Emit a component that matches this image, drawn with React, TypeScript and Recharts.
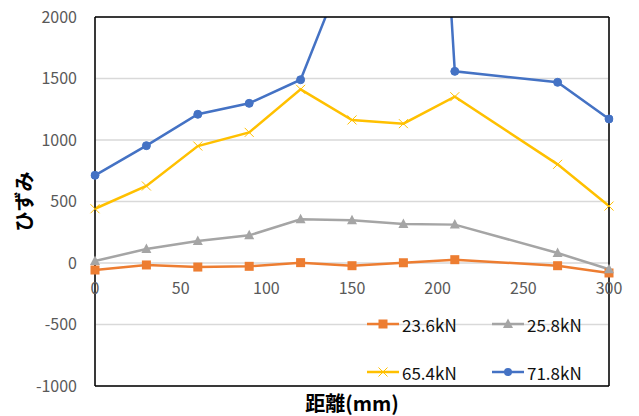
import {
  CartesianGrid,
  Legend,
  Line,
  LineChart,
  ReferenceDot,
  XAxis,
  YAxis,
} from "recharts";

const distance = [0, 30, 60, 90, 120, 150, 180, 210, 270, 300];
const strain236 = [-57, -16, -33, -27, 3, -22, 2, 27, -22, -81];
const strain258 = [16, 114, 179, 225, 355, 347, 317, 312, 81, -51];
const strain654 = [441, 626, 951, 1062, 1412, 1163, 1133, 1352, 802, 463];
const strain718 = [713, 954, 1209, 1298, 1490, 2540, 8400, 1558, 1469, 1171];

const xTicks = [0, 50, 100, 150, 200, 250, 300];
const yTicks = [-1000, -500, 0, 500, 1000, 1500, 2000];

const FONT = '"Noto Sans CJK JP", "Noto Sans", sans-serif';
const frame = { stroke: "#000", strokeWidth: 1.5 };

type Shape = "square" | "triangle" | "cross" | "circle";

const series: { key: string; name: string; color: string; shape: Shape }[] = [
  { key: "s236", name: "23.6kN", color: "#ED7D31", shape: "square" },
  { key: "s258", name: "25.8kN", color: "#A5A5A5", shape: "triangle" },
  { key: "s654", name: "65.4kN", color: "#FFC000", shape: "cross" },
  { key: "s718", name: "71.8kN", color: "#4472C4", shape: "circle" },
];

const rows = distance.map((d, i) => ({
  d,
  s236: strain236[i],
  s258: strain258[i],
  s654: strain654[i],
  s718: strain718[i],
}));

function marker(shape: Shape, cx: number, cy: number, color: string, key?: any) {
  if (cx == null || cy == null) return <g key={key} />;
  switch (shape) {
    case "square":
      return <rect key={key} x={cx - 4.5} y={cy - 4.5} width={9} height={9} fill={color} />;
    case "triangle":
      return (
        <polygon
          key={key}
          points={`${cx},${cy - 5.5} ${cx - 5},${cy + 4} ${cx + 5},${cy + 4}`}
          fill={color}
        />
      );
    case "cross":
      return (
        <g key={key} stroke={color} strokeWidth={1}>
          <line x1={cx - 4.5} y1={cy - 4.5} x2={cx + 4.5} y2={cy + 4.5} />
          <line x1={cx - 4.5} y1={cy + 4.5} x2={cx + 4.5} y2={cy - 4.5} />
        </g>
      );
    default:
      return <circle key={key} cx={cx} cy={cy} r={4} fill={color} />;
  }
}

function LegendGrid({ payload }: any) {
  return (
    <div
      style={{
        display: "grid",
        gridTemplateColumns: "125px 125px",
        gridAutoRows: "48px",
        fontFamily: FONT,
        fontSize: 17,
        color: "#111",
      }}
    >
      {(payload || []).map((entry: any) => {
        const s = series.find((x) => x.key === entry.dataKey)!;
        return (
          <div key={s.key} style={{ display: "flex", alignItems: "center" }}>
            <svg width={33} height={16} style={{ marginRight: 2 }}>
              <line x1={0} y1={8} x2={32} y2={8} stroke={s.color} strokeWidth={2.5} />
              {marker(s.shape, 16, 8, s.color)}
            </svg>
            <span>{s.name}</span>
          </div>
        );
      })}
    </div>
  );
}

export default function App() {
  return (
    <div style={{ position: "absolute", left: 0, top: 0 }}>
      <LineChart
        width={639}
        height={416}
        data={rows}
        margin={{ top: 16, right: 29, left: 0, bottom: 0 }}
        style={{ fontFamily: FONT }}
      >
        <CartesianGrid stroke="#D9D9D9" strokeWidth={1.5} />
        <XAxis
          type="number"
          dataKey="d"
          domain={[0, 300]}
          ticks={xTicks}
          tick={false}
          tickLine={false}
          axisLine={frame}
          height={30}
          label={{
            value: "距離(mm)",
            position: "insideBottom",
            offset: 5,
            fill: "#000",
            fontSize: 20,
            fontWeight: 700,
          }}
        />
        {/* top edge of the plot frame */}
        <XAxis
          xAxisId="top"
          orientation="top"
          type="number"
          dataKey="d"
          domain={[0, 300]}
          ticks={xTicks}
          tick={false}
          tickLine={false}
          axisLine={frame}
          height={1}
        />
        <YAxis
          domain={[-1000, 2000]}
          ticks={yTicks}
          interval={0}
          width={95}
          tickLine={false}
          axisLine={frame}
          tickMargin={12}
          tick={{ fill: "#595959", fontSize: 16 }}
          label={{
            value: "ひずみ",
            angle: -90,
            position: "insideLeft",
            offset: 25,
            fill: "#000",
            fontSize: 20,
            fontWeight: 700,
            style: { textAnchor: "middle" },
          }}
        />
        {/* right edge of the plot frame */}
        <YAxis
          yAxisId="right"
          orientation="right"
          domain={[-1000, 2000]}
          ticks={yTicks}
          tick={false}
          tickLine={false}
          axisLine={frame}
          width={1}
        />
        {/* 71.8kN runs off the top, so it gets its own clipped axis */}
        <YAxis yAxisId="clip" hide domain={[-1000, 2000]} allowDataOverflow />
        {xTicks.map((t) => (
          <ReferenceDot
            key={t}
            x={t}
            y={0}
            r={0}
            fill="none"
            stroke="none"
            label={{ value: String(t), position: "bottom", offset: 20, fill: "#595959", fontSize: 16 }}
          />
        ))}
        {series.slice(0, 3).map((s) => (
          <Line
            key={s.key}
            type="linear"
            dataKey={s.key}
            name={s.name}
            stroke={s.color}
            strokeWidth={2.5}
            isAnimationActive={false}
            activeDot={false}
            dot={(p: any) => marker(s.shape, p.cx, p.cy, s.color, `${s.key}-${p.index}`)}
          />
        ))}
        <Line
          yAxisId="clip"
          type="linear"
          dataKey="s718"
          name="71.8kN"
          stroke="#4472C4"
          strokeWidth={2.5}
          isAnimationActive={false}
          activeDot={false}
          dot={{ r: 4, fill: "#4472C4", stroke: "#4472C4", strokeWidth: 1, clipDot: false }}
        />
        <Legend
          layout="horizontal"
          verticalAlign="middle"
          align="center"
          wrapperStyle={{ left: 367, top: 300, width: 250 }}
          content={<LegendGrid />}
        />
      </LineChart>
    </div>
  );
}
